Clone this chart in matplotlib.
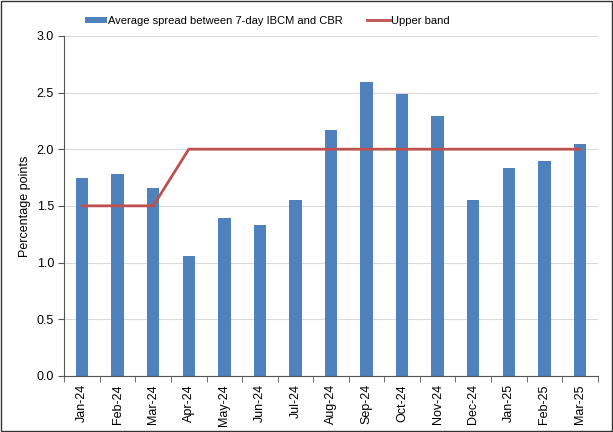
import matplotlib.pyplot as plt
import numpy as np

plt.rcParams["font.family"] = ["Liberation Sans", "DejaVu Sans"]
plt.rcParams["font.size"] = 9

months = ["Jan-24", "Feb-24", "Mar-24", "Apr-24", "May-24", "Jun-24", "Jul-24",
          "Aug-24", "Sep-24", "Oct-24", "Nov-24", "Dec-24", "Jan-25", "Feb-25", "Mar-25"]
spread = [1.75, 1.78, 1.66, 1.06, 1.39, 1.33, 1.55, 2.17, 2.59, 2.49, 2.29, 1.55, 1.83, 1.90, 2.05]
upper_band = [1.5, 1.5, 1.5, 2.0, 2.0, 2.0, 2.0, 2.0, 2.0, 2.0, 2.0, 2.0, 2.0, 2.0, 2.0]

x = np.arange(len(months))

fig = plt.figure(figsize=(6.13, 4.32), dpi=100)
ax = fig.add_axes([0.105, 0.13, 0.87, 0.787])

bars = ax.bar(x, spread, width=0.35, color="#4F81BD",
              label="Average spread between 7-day IBCM and CBR", zorder=2)
line, = ax.plot(x, upper_band, color="#C0504D", linewidth=2, label="Upper band", zorder=3)

ax.set_xlim(-0.5, len(months) - 0.5)
ax.set_ylim(0, 3.0)
yt = np.arange(0, 3.01, 0.5)
ax.set_yticks(yt)
ax.set_yticklabels([f"{v:.1f}" for v in yt])
ax.set_xticks(x)
ax.set_xticklabels(months, rotation=90)
ax.tick_params(axis="x", length=0, pad=6)
ax.set_xticks(np.arange(-0.5, len(months), 1), minor=True)
ax.tick_params(axis="x", which="minor", length=4, direction="out", color="#555555")
ax.tick_params(axis="y", length=4, direction="out", color="#555555")
ax.set_ylabel("Percentage points")

ax.grid(axis="y", color="#d9d9d9", linewidth=0.8, zorder=0)
ax.set_axisbelow(True)
for s in ["top", "right"]:
    ax.spines[s].set_visible(False)
ax.spines["left"].set_color("#555555")
ax.spines["bottom"].set_color("#555555")

ax.legend(handles=[bars, line], loc="lower center", bbox_to_anchor=(0.38, 1.0), ncol=2,
          frameon=False, fontsize=8, handlelength=2.0, handleheight=0.5, columnspacing=2.2,
          handletextpad=0.1)

fig.patches.append(plt.Rectangle((0.002, 0.002), 0.996, 0.996, transform=fig.transFigure,
                                 fill=False, edgecolor="#333333", linewidth=1))

fig.savefig("out.png", dpi=100)
